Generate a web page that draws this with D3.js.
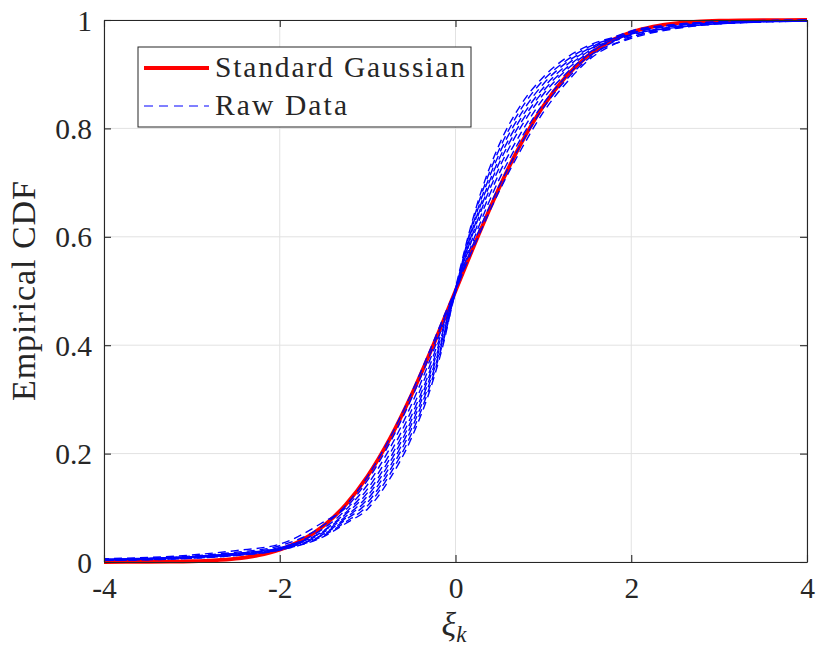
<!DOCTYPE html>
<html>
<head>
<meta charset="utf-8">
<script src="https://cdn.jsdelivr.net/npm/d3@7"></script>
<style>
  body { margin: 0; background: #fff; }
  svg { display: block; }
  text { font-family: "Liberation Serif", "Times New Roman", serif; fill: #262626; }
</style>
</head>
<body>
<svg id="chart" width="816" height="650"></svg>
<script>
// Standard normal CDF, tabulated
const gaussX = [-4, -3.75, -3.5, -3.25, -3, -2.75, -2.5, -2.25, -2, -1.75, -1.5, -1.25, -1, -0.75, -0.5, -0.25,
                0, 0.25, 0.5, 0.75, 1, 1.25, 1.5, 1.75, 2, 2.25, 2.5, 2.75, 3, 3.25, 3.5, 3.75, 4];
const gaussCdf = [0.00003, 0.00009, 0.00023, 0.00058, 0.00135, 0.00298, 0.00621, 0.01222, 0.02275, 0.04006,
                  0.06681, 0.10565, 0.15866, 0.22663, 0.30854, 0.40129, 0.5, 0.59871, 0.69146, 0.77337,
                  0.84134, 0.89435, 0.93319, 0.95994, 0.97725, 0.98778, 0.99379, 0.99702, 0.99865, 0.99942,
                  0.99977, 0.99991, 0.99997];

// Empirical CDFs of the raw data sets
const rawX = [-4, -3, -2.5, -2, -1.5, -1.25, -1, -0.75, -0.5, -0.25, -0.125, 0, 0.125, 0.25, 0.5, 0.75,
              1, 1.25, 1.5, 2, 2.5, 3, 4];
const rawCdf = [
  [0.005, 0.011, 0.018, 0.030, 0.068, 0.104, 0.158, 0.228, 0.312, 0.407, 0.456, 0.502, 0.550, 0.597, 0.685, 0.762, 0.830, 0.882, 0.924, 0.968, 0.986, 0.994, 0.999],
  [0.006, 0.013, 0.021, 0.033, 0.074, 0.100, 0.151, 0.219, 0.302, 0.399, 0.451, 0.498, 0.555, 0.605, 0.695, 0.772, 0.838, 0.888, 0.927, 0.975, 0.990, 0.996, 1.000],
  [0.004, 0.010, 0.016, 0.026, 0.062, 0.096, 0.143, 0.209, 0.291, 0.390, 0.445, 0.503, 0.560, 0.613, 0.707, 0.783, 0.846, 0.894, 0.931, 0.966, 0.984, 0.993, 0.998],
  [0.005, 0.009, 0.015, 0.025, 0.058, 0.091, 0.135, 0.199, 0.280, 0.381, 0.439, 0.501, 0.565, 0.622, 0.718, 0.793, 0.855, 0.900, 0.935, 0.978, 0.991, 0.996, 0.999],
  [0.004, 0.009, 0.016, 0.027, 0.057, 0.088, 0.128, 0.190, 0.270, 0.372, 0.434, 0.497, 0.570, 0.630, 0.728, 0.804, 0.863, 0.906, 0.938, 0.972, 0.988, 0.995, 0.999],
  [0.003, 0.008, 0.014, 0.024, 0.055, 0.084, 0.122, 0.183, 0.262, 0.366, 0.429, 0.504, 0.573, 0.636, 0.737, 0.812, 0.869, 0.910, 0.941, 0.980, 0.992, 0.997, 1.000],
  [0.005, 0.010, 0.015, 0.025, 0.052, 0.081, 0.116, 0.175, 0.254, 0.359, 0.424, 0.500, 0.577, 0.642, 0.745, 0.820, 0.875, 0.915, 0.944, 0.969, 0.985, 0.993, 0.998],
  [0.004, 0.008, 0.013, 0.023, 0.051, 0.078, 0.110, 0.168, 0.246, 0.352, 0.420, 0.503, 0.581, 0.649, 0.754, 0.828, 0.882, 0.920, 0.946, 0.976, 0.989, 0.995, 0.999],
  [0.003, 0.007, 0.012, 0.022, 0.049, 0.074, 0.104, 0.161, 0.237, 0.345, 0.416, 0.499, 0.585, 0.656, 0.762, 0.837, 0.889, 0.924, 0.949, 0.973, 0.987, 0.994, 0.999],
  [0.003, 0.007, 0.012, 0.022, 0.047, 0.071, 0.098, 0.153, 0.229, 0.338, 0.411, 0.505, 0.589, 0.662, 0.771, 0.845, 0.895, 0.929, 0.952, 0.974, 0.986, 0.993, 0.998]
];

const xTicks = [-4, -2, 0, 2, 4];
const yTicks = [0, 0.2, 0.4, 0.6, 0.8, 1];
const yTickLabels = ["0", "0.2", "0.4", "0.6", "0.8", "1"];
const legendLabels = ["Standard Gaussian", "Raw Data"];
const yLabel = "Empirical CDF";

const svg = d3.select("#chart");
const margin = { left: 104, right: 9, top: 20, bottom: 88 };
const W = 816, H = 650;
const x = d3.scaleLinear().domain([-4, 4]).range([margin.left, W - margin.right]);
const y = d3.scaleLinear().domain([0, 1]).range([H - margin.bottom, margin.top]);

const axisColor = "#262626";
const tickLen = 7;

// grid
const grid = svg.append("g");
grid.selectAll("line.gx").data(xTicks).join("line")
  .attr("x1", d => x(d)).attr("x2", d => x(d))
  .attr("y1", y(0)).attr("y2", y(1))
  .attr("stroke", "#e2e2e2").attr("stroke-width", 1);
grid.selectAll("line.gy").data(yTicks).join("line")
  .attr("y1", d => y(d)).attr("y2", d => y(d))
  .attr("x1", x(-4)).attr("x2", x(4))
  .attr("stroke", "#e2e2e2").attr("stroke-width", 1);

// curves
svg.append("clipPath").attr("id", "plotClip").append("rect")
  .attr("x", x(-4)).attr("y", y(1) - 3).attr("width", x(4) - x(-4)).attr("height", y(0) - y(1) + 6);
const plot = svg.append("g").attr("clip-path", "url(#plotClip)");

const lineGen = d3.line().x(d => x(d[0])).y(d => y(d[1])).curve(d3.curveMonotoneX);

plot.append("path")
  .datum(gaussX.map((v, i) => [v, gaussCdf[i]]))
  .attr("d", lineGen)
  .attr("fill", "none").attr("stroke", "#ff0000").attr("stroke-width", 3.8);

plot.selectAll("path.raw").data(rawCdf).join("path")
  .attr("class", "raw")
  .attr("d", (s) => lineGen(rawX.map((v, i) => [v, s[i]])))
  .attr("fill", "none").attr("stroke", "#0000ff").attr("stroke-width", 1.4)
  .attr("stroke-dasharray", "8,5")
  .attr("stroke-dashoffset", (d, i) => i * 3);

// axes (ticks point inward, box on)
const fs = 29.5;
const axB = svg.append("g").attr("transform", `translate(0,${y(0)})`)
  .call(d3.axisBottom(x).tickValues(xTicks).tickSize(-tickLen).tickSizeOuter(0).tickPadding(15)
        .tickFormat(d => d3.format("d")(d).replace("−", "-")));
const axT = svg.append("g").attr("transform", `translate(0,${y(1)})`)
  .call(d3.axisTop(x).tickValues(xTicks).tickSize(-tickLen).tickSizeOuter(0).tickFormat(""));
const axL = svg.append("g").attr("transform", `translate(${x(-4)},0)`)
  .call(d3.axisLeft(y).tickValues(yTicks).tickSize(-tickLen).tickSizeOuter(0).tickPadding(12)
        .tickFormat((d, i) => yTickLabels[i]));
const axR = svg.append("g").attr("transform", `translate(${x(4)},0)`)
  .call(d3.axisRight(y).tickValues(yTicks).tickSize(-tickLen).tickSizeOuter(0).tickFormat(""));

[axB, axT, axL, axR].forEach(g => {
  g.select(".domain").attr("stroke", axisColor).attr("stroke-width", 1.1);
  g.selectAll(".tick line").attr("stroke", axisColor).attr("stroke-width", 1.1);
  g.selectAll("text").attr("font-family", null).attr("font-size", fs).attr("fill", axisColor);
});
axL.selectAll("text").attr("dy", "0.34em");

// axis labels
svg.append("text")
  .attr("transform", `translate(35,${(y(0) + y(1)) / 2}) rotate(-90)`)
  .attr("text-anchor", "middle").attr("font-size", 34)
  .attr("textLength", 220).attr("lengthAdjust", "spacing")
  .text(yLabel);

const xl = svg.append("text").attr("x", 454).attr("y", 636).attr("text-anchor", "middle")
  .attr("font-size", 34).attr("font-style", "italic");
xl.append("tspan").text("ξ");
xl.append("tspan").attr("font-size", 23).attr("dy", 6).text("k");

// legend
const lg = svg.append("g");
lg.append("rect").attr("x", 138).attr("y", 47).attr("width", 333).attr("height", 80)
  .attr("fill", "#fff").attr("stroke", axisColor).attr("stroke-width", 1);
const rows = [{ y: 68, stroke: "#ff0000", w: 3.8, dash: null },
              { y: 106, stroke: "#0000ff", w: 1, dash: "9,6" }];
rows.forEach((r, i) => {
  lg.append("line").attr("x1", 144).attr("x2", 209).attr("y1", r.y).attr("y2", r.y)
    .attr("stroke", r.stroke).attr("stroke-width", r.w).attr("stroke-dasharray", r.dash);
  lg.append("text").attr("x", 215).attr("y", r.y + 9).attr("font-size", fs)
    .attr("textLength", i === 0 ? 250 : 132).attr("lengthAdjust", "spacing")
    .text(legendLabels[i]);
});
</script>
</body>
</html>
